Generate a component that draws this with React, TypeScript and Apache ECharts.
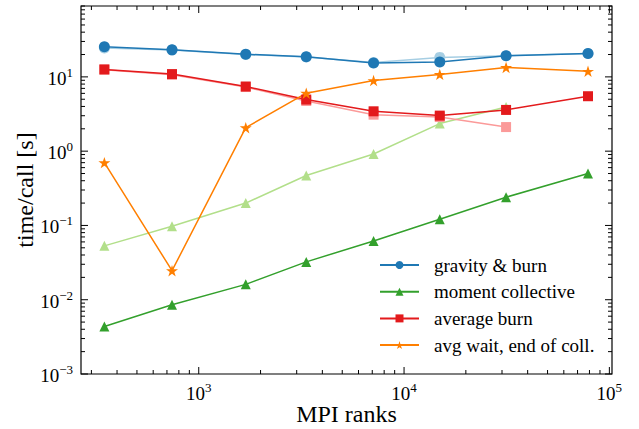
import React, { useEffect, useRef } from "react";
import * as echarts from "echarts";

// ---- data ----
const X_RANKS = [347, 741, 1694, 3339, 7105, 14927, 31400, 78700];
const GRAVITY_BURN = [25.4, 23.1, 20.2, 18.6, 15.4, 15.9, 19.2, 20.7];
const GRAVITY_BURN_LIGHT = [24.4, 23.0, 20.0, 18.5, 15.6, 18.3, 19.3, 20.6];
const MOMENT = [0.00436, 0.00857, 0.0161, 0.0323, 0.0619, 0.121, 0.24, 0.501];
const MOMENT_LIGHT = [0.0531, 0.0975, 0.2, 0.471, 0.915, 2.35, 3.93];
const AVG_BURN = [12.6, 10.9, 7.42, 4.95, 3.44, 3.01, 3.59, 5.49];
const AVG_BURN_LIGHT = [12.5, 10.7, 7.3, 4.74, 3.1, 2.88, 2.11];
const AVG_WAIT = [0.7, 0.0246, 2.07, 6.03, 8.93, 10.8, 13.4, 11.9];

const LEGEND_NAMES = [
  "gravity & burn",
  "moment collective",
  "average burn",
  "avg wait, end of coll.",
];

const X_MIN = 267;
const X_MAX = 103000;
const Y_MIN = 0.001;
const Y_MAX = 90;
const X_DECADES = [100, 1000, 10000];
const Y_DECADES = [0.001, 0.01, 0.1, 1, 10];
const MINOR_MULT = [2, 3, 4, 5, 6, 7, 8, 9];
const X_MAJOR = [1000, 10000, 100000];
const Y_MAJOR = [0.001, 0.01, 0.1, 1, 10];

const FONT = "Liberation Serif";
const STAR =
  "path://M100,0L122.34,69.26L195.1,69.1L136.14,111.74L158.8,180.9L100,138L41.2,180.9L63.86,111.74L4.9,69.1L77.66,69.26Z";

const pair = (arr: number[]) => arr.map((v, i) => [X_RANKS[i], v]);

function powLabel(v: number) {
  const l = Math.log10(v);
  const e = Math.round(l);
  if (Math.abs(l - e) > 1e-6) return "";
  const s = e < 0 ? "\u2212" + -e : String(e);
  return "{b|10}{s|" + s + "}";
}

export default function App() {
  const ref = useRef<HTMLDivElement>(null);
  useEffect(() => {
    if (!ref.current) return;
    const chart = echarts.init(ref.current, undefined, { renderer: "svg" });

    const xMinor: number[] = [];
    X_DECADES.forEach((d) =>
      MINOR_MULT.forEach((m) => {
        const v = d * m;
        if (v >= X_MIN && v <= X_MAX) xMinor.push(v);
      })
    );
    const yMinor: number[] = [];
    Y_DECADES.forEach((d) =>
      MINOR_MULT.forEach((m) => {
        const v = d * m;
        if (v >= Y_MIN && v <= Y_MAX) yMinor.push(v);
      })
    );

    const mkLine = (x1: number, y1: number, x2: number, y2: number) => ({
      type: "line",
      shape: { x1, y1, x2, y2 },
      style: { stroke: "#000", lineWidth: 1 },
    });

    const lineSeries = (
      name: string,
      arr: number[],
      color: string,
      symbol: string,
      size: number,
      z: number
    ) => ({
      type: "line",
      name,
      data: pair(arr),
      color,
      symbol,
      symbolSize: size,
      symbolKeepAspect: true,
      showAllSymbol: true,
      lineStyle: { width: 1.5, color },
      itemStyle: { color, borderWidth: 0 },
      z,
    });

    const labelRich = {
      b: { fontSize: 19, fontFamily: FONT, color: "#000", verticalAlign: "bottom", lineHeight: 22 },
      s: { fontSize: 13, fontFamily: FONT, color: "#000", verticalAlign: "top", lineHeight: 13 },
    };

    const option: any = {
      animation: false,
      backgroundColor: "#fff",
      grid: {
        left: 81,
        right: 27,
        top: 6,
        bottom: 55,
        containLabel: false,
        outerBoundsMode: "none",
        show: true,
        borderColor: "#000",
        borderWidth: 1.2,
        backgroundColor: "transparent",
      },
      xAxis: {
        type: "log",
        logBase: 10,
        min: X_MIN,
        max: X_MAX,
        name: "MPI ranks",
        nameLocation: "middle",
        nameGap: 28,
        nameMoveOverlap: false,
        nameTextStyle: { fontFamily: FONT, fontSize: 24, color: "#000", lineHeight: 24 },
        axisLine: { show: false },
        axisTick: { show: false },
        splitLine: { show: false },
        axisLabel: {
          formatter: powLabel,
          rich: labelRich,
          margin: 7,
          showMinLabel: true,
          showMaxLabel: true,
        },
      },
      yAxis: {
        type: "log",
        logBase: 10,
        min: Y_MIN,
        max: Y_MAX,
        name: "time/call [s]",
        nameLocation: "middle",
        nameGap: 44,
        nameMoveOverlap: false,
        nameTextStyle: { fontFamily: FONT, fontSize: 24, color: "#000" },
        axisLine: { show: false },
        axisTick: { show: false },
        splitLine: { show: false },
        axisLabel: {
          formatter: powLabel,
          rich: labelRich,
          margin: 8,
        },
      },
      legend: {
        data: LEGEND_NAMES,
        left: 379,
        top: 255,
        orient: "vertical",
        padding: 0,
        itemWidth: 39,
        itemHeight: 10,
        itemGap: 6.7,
        textStyle: {
          fontFamily: FONT,
          fontSize: 19,
          color: "#000",
          lineHeight: 20,
          padding: [0, 0, 0, 10],
        },
      },
      series: [
        lineSeries("gb_light", GRAVITY_BURN_LIGHT, "#a6cee3", "circle", 11, 2),
        lineSeries("mc_light", MOMENT_LIGHT, "#b2df8a", "triangle", 10, 2),
        lineSeries("ab_light", AVG_BURN_LIGHT, "#fb9a99", "rect", 10, 2),
        lineSeries(LEGEND_NAMES[0], GRAVITY_BURN, "#1f78b4", "circle", 11, 3),
        lineSeries(LEGEND_NAMES[1], MOMENT, "#33a02c", "triangle", 10, 3),
        lineSeries(LEGEND_NAMES[2], AVG_BURN, "#e31a1c", "rect", 10, 3),
        lineSeries(LEGEND_NAMES[3], AVG_WAIT, "#ff7f00", STAR, 12, 3),
        {
          type: "custom",
          name: "ticks",
          silent: true,
          clip: false,
          z: 10,
          data: [[1000, 1]],
          renderItem: (params: any, api: any) => {
            const cs = params.coordSys;
            const top = cs.y;
            const bottom = cs.y + cs.height;
            const left = cs.x;
            const right = cs.x + cs.width;
            const children: any[] = [];
            const addX = (v: number, len: number) => {
              const x = api.coord([v, 1])[0];
              children.push(mkLine(x, bottom, x, bottom - len));
              children.push(mkLine(x, top, x, top + len));
            };
            const addY = (v: number, len: number) => {
              const y = api.coord([1000, v])[1];
              children.push(mkLine(left, y, left + len, y));
              children.push(mkLine(right, y, right - len, y));
            };
            xMinor.forEach((v) => addX(v, 4));
            X_MAJOR.forEach((v) => addX(v, 7));
            yMinor.forEach((v) => addY(v, 4));
            Y_MAJOR.forEach((v) => addY(v, 7));
            return { type: "group", children };
          },
        },
      ],
    };
    chart.setOption(option);
    return () => chart.dispose();
  }, []);
  return (
    <div
      ref={ref}
      style={{ position: "fixed", left: 0, top: 0, width: 639, height: 429, background: "#fff" }}
    />
  );
}
